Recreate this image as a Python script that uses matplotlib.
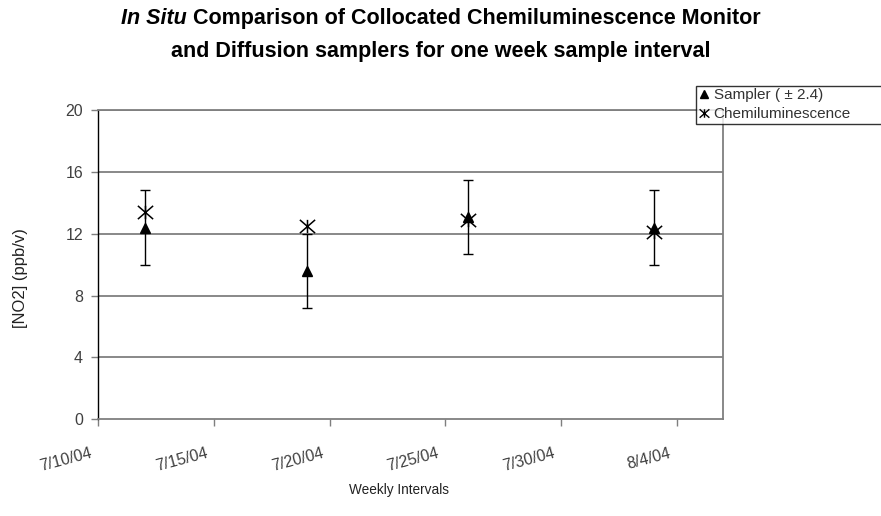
import datetime as dt
import matplotlib
matplotlib.use("Agg")
import matplotlib.pyplot as plt
from matplotlib.path import Path
from matplotlib.lines import Line2D

# ---- data ----
sample_dates = ["2004-07-12", "2004-07-19", "2004-07-26", "2004-08-03"]
sampler_values = [12.4, 9.6, 13.1, 12.4]
sampler_error = [2.4, 2.4, 2.4, 2.4]
chemi_values = [13.4, 12.5, 12.9, 12.1]
tick_dates = ["2004-07-10", "2004-07-15", "2004-07-20", "2004-07-25", "2004-07-30", "2004-08-04"]
tick_labels = ["7/10/04", "7/15/04", "7/20/04", "7/25/04", "7/30/04", "8/4/04"]
y_ticks = [0, 4, 8, 12, 16, 20]
x_limits = ["2004-07-10", "2004-08-06"]

plt.rcParams['font.family'] = ['Liberation Sans', 'DejaVu Sans']

to_d = lambda s: dt.datetime.strptime(s, "%Y-%m-%d")
xd = [to_d(s) for s in sample_dates]
td = [to_d(s) for s in tick_dates]

W, H = 881, 516
fig = plt.figure(figsize=(W/100, H/100), dpi=100)
ax = fig.add_axes([98.3/W, 1-419.3/H, (723-98.3)/W, (419.3-110)/H])

star = Path([(-1, -0.87), (1, 0.87), (-1, 0.87), (1, -0.87), (0, -0.87), (0, 0.87)],
            [Path.MOVETO, Path.LINETO, Path.MOVETO, Path.LINETO, Path.MOVETO, Path.LINETO])

for yv in y_ticks[1:]:
    ax.axhline(yv, color='#7f7f7f', lw=1.3, zorder=1)

ax.errorbar(xd, sampler_values, yerr=sampler_error, fmt='^', color='black',
            ecolor='black', elinewidth=1.0, capsize=3.8, capthick=1.0,
            markersize=7, zorder=3)
ax.plot(xd, chemi_values, linestyle='none', marker=star, markersize=11,
        markerfacecolor='none', markeredgecolor='black', markeredgewidth=1.1, zorder=4)

ax.set_xlim(to_d(x_limits[0]), to_d(x_limits[1]))
ax.set_ylim(0, 20)
ax.set_yticks(y_ticks)
ax.set_xticks(td)
ax.set_xticklabels([])
for d, lab in zip(td, tick_labels):
    ax.annotate(lab, xy=(d, 0), xycoords=('data', 'axes fraction'),
                xytext=(-6, -19), textcoords='offset points',
                rotation=15, ha='right', va='top', rotation_mode='anchor',
                fontsize=11.5, color='#404040', annotation_clip=False)

for s in ['top', 'right']:
    ax.spines[s].set_color('#7f7f7f')
    ax.spines[s].set_linewidth(1.3)
ax.spines['left'].set_color('black')
ax.spines['left'].set_linewidth(1.0)
ax.spines['bottom'].set_color('#7f7f7f')
ax.spines['bottom'].set_linewidth(1.3)

ax.tick_params(axis='y', direction='out', length=5, width=1, color='#7f7f7f',
               labelsize=11.5, labelcolor='#404040', pad=6)
ax.tick_params(axis='x', direction='out', length=5, width=1, color='#7f7f7f')

fig.text(21/W, 1-278/H, "[NO2] (ppb/v)", fontsize=12, color='#222222',
         rotation=90, ha='center', va='center')
fig.text(399/W, 1-490/H, "Weekly Intervals", fontsize=9.8, color='#222222',
         ha='center', va='center')

# title with italic "In Situ"
fs = 15.5
t1 = fig.text(0, 1-24/H, "In Situ ", fontsize=fs, fontweight='bold', style='italic',
              ha='left', va='baseline')
t2 = fig.text(0, 1-24/H, "Comparison of Collocated Chemiluminescence Monitor", fontsize=fs,
              fontweight='bold', ha='left', va='baseline')
fig.text(0.5, 1-57/H, "and Diffusion samplers for one week sample interval", fontsize=fs,
         fontweight='bold', ha='center', va='baseline')
r = fig.canvas.get_renderer()
w1 = t1.get_window_extent(r).width
w2 = t2.get_window_extent(r).width
x0 = (W - (w1 + w2)) / 2
t1.set_x(x0 / W)
t2.set_x((x0 + w1) / W)

handles = [Line2D([], [], linestyle='none', marker='^', color='black', markersize=6),
           Line2D([], [], linestyle='none', marker=star, markersize=7,
                  markerfacecolor='none', markeredgecolor='black')]
bh = 0.01
leg = fig.legend(handles, ["Sampler ( \u00b1 2.4)", "Chemiluminescence"],
                 loc='upper left', bbox_to_anchor=(696/W, 1-86/H-bh, (890-696)/W, bh),
                 mode='expand',
                 bbox_transform=fig.transFigure, borderaxespad=0,
                 fontsize=11, frameon=True, fancybox=False, handlelength=0.7,
                 handletextpad=0.3, borderpad=0.15, labelspacing=0.33)
leg.get_frame().set_edgecolor('black')
leg.get_frame().set_linewidth(1.0)
for t in leg.get_texts():
    t.set_color('#333333')

fig.savefig("out.png", dpi=100)
